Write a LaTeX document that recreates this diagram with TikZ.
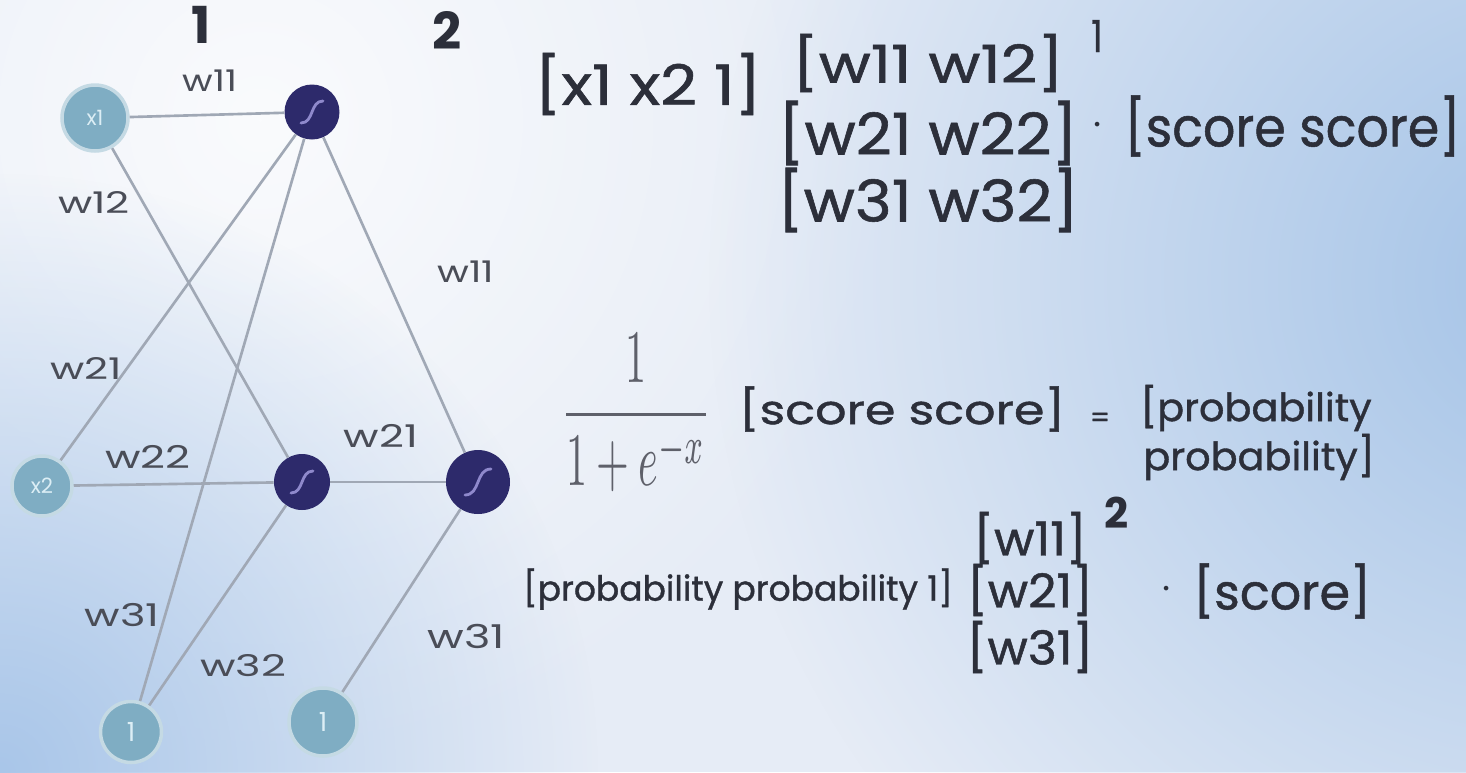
\documentclass[tikz,border=0pt]{standalone}
\usepackage{amsmath}
\usepackage{fontspec}
\setmainfont{Poppins}[FakeBold=1]
\newfontfamily\lblfont{Poppins}
\usetikzlibrary{calc,fadings}
\tikzfading[name=radfade, inner color=transparent!0, outer color=transparent!100]
\definecolor{bgbase}{HTML}{E6ECF6}
\definecolor{bgwhite}{HTML}{FAFBFD}
\definecolor{bgblue}{HTML}{A4C3E7}
\definecolor{bgblueb}{HTML}{A9C6E9}
\definecolor{edgecol}{HTML}{A0A8B5}
\definecolor{inpcol}{HTML}{7FADC3}
\definecolor{inptext}{HTML}{DCEEF5}
\definecolor{hidcol}{HTML}{2D2A6B}
\definecolor{sigcol}{HTML}{8F89CC}
\definecolor{txt}{HTML}{2C2F3A}
\definecolor{lblcol}{HTML}{4A4D57}
\definecolor{fraccol}{HTML}{5E606A}
\newcommand\fs[1]{\fontsize{#1}{#1}\selectfont}
\newcommand\sxy[3]{\scalebox{#1}[#2]{#3}}
\newcommand\sigglyph[2]{\draw[sigline] ($(#1)+(-#2,#2)$) .. controls ($(#1)+(0.2*#2,#2)$) and ($(#1)+(-0.2*#2,-#2)$) .. ($(#1)+(#2,-#2)$);}
\tikzset{
  edge/.style={draw=edgecol, line width=1.5pt},
  inp/.style={circle, fill=inpcol, draw=white!55!inpcol, line width=2pt, inner sep=0pt, text=inptext},
  hid/.style={circle, fill=hidcol, inner sep=0pt},
  sigline/.style={draw=sigcol, line width=1.6pt, line cap=round},
  wl/.style={font=\lblfont\fs{17}, text=lblcol, inner sep=0pt},
  big/.style={font=\fs{28}, text=txt, inner sep=0pt},
  mid/.style={font=\fs{21}, text=txt, inner sep=0pt},
  small/.style={font=\fs{18}, text=txt, inner sep=0pt},
  layerlbl/.style={font=\lblfont\bfseries\fs{29}, text=txt, inner sep=0pt}
}
\begin{document}
\begin{tikzpicture}[x=0.02cm, y=-0.02cm]
\useasboundingbox (0,0) rectangle (1466,772);
% background
\begin{scope}
\clip (0,0) rectangle (1466,772);
\fill[bgbase] (0,0) rectangle (1466,772);
\fill[bgwhite, path fading=radfade] (260,120) circle (650);
\fill[bgblueb, path fading=radfade] (0,772) circle (600);
\fill[bgblue, path fading=radfade] (1560,280) circle (850);
\end{scope}
% nodes
\node[inp, minimum size=1.32cm, font=\lblfont\fs{12}] (x1) at (95,118) {x1};
\node[inp, minimum size=1.20cm, font=\lblfont\fs{12}] (x2) at (42,486) {x2};
\node[inp, minimum size=1.22cm, font=\lblfont\fs{15}] (b1) at (131,732) {1};
\node[inp, minimum size=1.36cm, font=\lblfont\fs{15}] (b2) at (323,722) {1};
\node[hid, minimum size=1.10cm] (h1) at (312,112) {};
\node[hid, minimum size=1.12cm] (h2) at (302,482) {};
\node[hid, minimum size=1.28cm] (o) at (478,482) {};
% edges
\draw[edge] (x1) -- (h1);
\draw[edge] (x1) -- (h2);
\draw[edge] (x2) -- (h1);
\draw[edge] (x2) -- (h2);
\draw[edge] (b1) -- (h1);
\draw[edge] (b1) -- (h2);
\draw[edge] (h1) -- (o);
\draw[edge] (h2) -- (o);
\draw[edge] (b2) -- (o);
\sigglyph{h1}{11}
\sigglyph{h2}{11}
\sigglyph{o}{13}
% layer labels
\node[layerlbl] (l1) at (201,25) {1};
\node[layerlbl] (l2) at (447,30) {2};
% edge labels
\node[wl] (e1) at (210,81) {\sxy{1.25}{1}{w11}};
\node[wl] (e2) at (94,202) {\sxy{1.4}{1}{w12}};
\node[wl] (e3) at (86,368) {\sxy{1.4}{1}{w21}};
\node[wl] (e4) at (148,457) {\sxy{1.45}{1.05}{w22}};
\node[wl] (e5) at (122,615) {\sxy{1.45}{1.05}{w31}};
\node[wl] (e6) at (243,666) {\sxy{1.45}{1}{w32}};
\node[wl] (e7) at (466,272) {\sxy{1.3}{1}{w11}};
\node[wl] (e8) at (381,436) {\sxy{1.45}{1.05}{w21}};
\node[wl] (e9) at (466,636) {\sxy{1.5}{1.1}{w31}};
% first equation
\node[big] (t1) at (648,84) {\sxy{1.3}{1.13}{[x1 x2 1]}};
\node[big] (t2) at (928,63) {\sxy{1.29}{1.06}{[w11 w12]}};
\node[mid] (t2s) at (1097,36) {\sxy{1}{1.2}{1}};
\node[big] (t3) at (928,133) {\sxy{1.27}{1.17}{[w21 w22]}};
\node[big] (t3d) at (1098,126) {$\cdot$};
\node[big, anchor=west] (t3b) at (1124,126) {\sxy{1.03}{1.11}{[score score]}};
\node[big] (t4) at (928,200) {\sxy{1.27}{1.17}{[w31 w32]}};
% sigmoid
\node[text=fraccol, inner sep=0pt] (fr) at (636,413) {\resizebox*{3.0cm}{3.15cm}{$\dfrac{1}{1+e^{-x}}$}};
\node[big] (t5) at (902,409) {\sxy{1}{0.82}{[score score]}};
\node[font=\fs{16}, text=txt, inner sep=0pt] (eq) at (1100,420) {=};
\node[mid, anchor=west] (p1) at (1140,408) {\sxy{1.08}{1.05}{[probability}};
\node[mid, anchor=west] (p2) at (1143,457) {\sxy{1.08}{1.05}{probability]}};
% second equation
\node[big] (u1) at (1030,538) {\sxy{1}{0.95}{[w11]}};
\node[font=\lblfont\bfseries\fs{24}, text=txt, inner sep=0pt] (u1s) at (1117,513) {2};
\node[small] (u0) at (738,589) {\sxy{1.09}{1.1}{[probability probability 1]}};
\node[big] (u2) at (1030,590) {\sxy{1}{0.95}{[w21]}};
\node[big] (u2d) at (1167,590) {$\cdot$};
\node[big, anchor=west] (u2b) at (1193,591) {[score]};
\node[big] (u3) at (1030,647) {\sxy{1}{0.95}{[w31]}};
\end{tikzpicture}
\end{document}
